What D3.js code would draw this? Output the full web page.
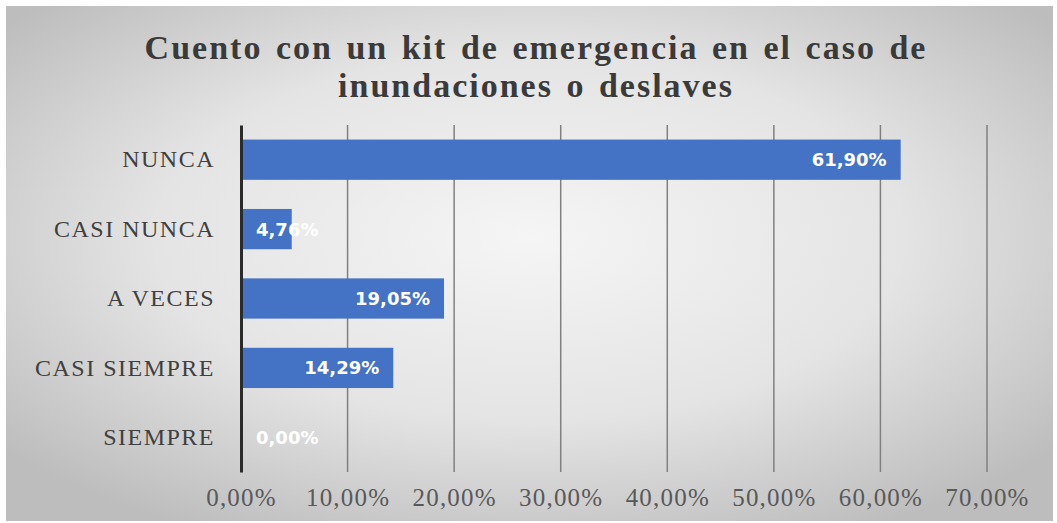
<!DOCTYPE html>
<html>
<head>
<meta charset="utf-8">
<script src="https://cdn.jsdelivr.net/npm/d3@7"></script>
<style>
  body { margin: 0; background: #fff; }
</style>
</head>
<body>
<div class="canvas"></div>
<script>
const categories = ['NUNCA', 'CASI NUNCA', 'A VECES', 'CASI SIEMPRE', 'SIEMPRE']
const values = [61.90, 4.76, 19.05, 14.29, 0.00]
const ticks = [0, 10, 20, 30, 40, 50, 60, 70]
const title = ['Cuento con un kit de emergencia en el caso de', 'inundaciones o deslaves']

const dims = { width: 1057, height: 523 }
const plot = { left: 241, right: 987, top: 125, bottom: 472 }

const fmt = v => v.toFixed(2).replace('.', ',') + '%'

const svg = d3.select('.canvas').append('svg')
  .attr('width', dims.width)
  .attr('height', dims.height)

// background gradient
const grad = svg.append('defs').append('radialGradient')
  .attr('id', 'bg')
  .attr('cx', '50%').attr('cy', '45%').attr('r', '65%')
grad.append('stop').attr('offset', '0%').attr('stop-color', '#f5f5f5')
grad.append('stop').attr('offset', '55%').attr('stop-color', '#e4e4e4')
grad.append('stop').attr('offset', '100%').attr('stop-color', '#bdbdbd')

svg.append('rect')
  .attr('x', 6).attr('y', 6)
  .attr('width', dims.width - 10).attr('height', dims.height - 8)
  .attr('fill', 'url(#bg)')

// title
svg.append('g').selectAll('text')
  .data(title)
  .enter().append('text')
  .attr('x', 536)
  .attr('y', (d, i) => 59 + i * 38)
  .attr('text-anchor', 'middle')
  .attr('font-family', 'Liberation Serif, serif')
  .attr('font-weight', 'bold')
  .attr('font-size', 34)
  .attr('letter-spacing', 2)
  .attr('word-spacing', 3)
  .attr('fill', '#3a3a3a')
  .text(d => d)

const x = d3.scaleLinear()
  .domain([0, 70])
  .range([plot.left, plot.right])

const y = d3.scaleBand()
  .domain(categories)
  .range([plot.top, plot.bottom])
  .paddingInner(0.42)
  .paddingOuter(0.21)

// gridlines
svg.append('g').selectAll('line')
  .data(ticks.slice(1))
  .enter().append('line')
  .attr('x1', d => x(d)).attr('x2', d => x(d))
  .attr('y1', plot.top).attr('y2', plot.bottom)
  .attr('stroke', '#808080')
  .attr('stroke-width', 1.5)

// x tick labels
const xAxis = svg.append('g')
  .attr('transform', `translate(0, ${plot.bottom})`)
  .call(d3.axisBottom(x).tickValues(ticks).tickSize(0).tickPadding(16).tickFormat(fmt))
xAxis.select('.domain').remove()
xAxis.selectAll('text')
  .attr('font-family', 'Liberation Serif, serif')
  .attr('font-size', 25)
  .attr('letter-spacing', 1.2)
  .attr('fill', '#595959')

// bars
const bars = svg.append('g')
bars.selectAll('rect')
  .data(values)
  .enter().append('rect')
  .attr('x', x(0))
  .attr('y', (d, i) => y(categories[i]))
  .attr('width', d => x(d) - x(0))
  .attr('height', y.bandwidth())
  .attr('fill', '#4472c4')

// value labels: inside end, pushed right when the bar is too short
bars.selectAll('text')
  .data(values)
  .enter().append('text')
  .attr('y', (d, i) => y(categories[i]) + y.bandwidth() / 2)
  .attr('dy', '0.36em')
  .attr('text-anchor', 'start')
  .attr('font-family', 'DejaVu Sans, Verdana, sans-serif')
  .attr('font-weight', 'bold')
  .attr('font-size', 18)
  .attr('fill', '#fff')
  .text(d => fmt(d))
  .attr('x', function (d) {
    const w = this.getComputedTextLength()
    return Math.max(x(d) - 14 - w, x(0) + 15)
  })

// y axis
const yAxis = svg.append('g')
  .attr('transform', `translate(${plot.left}, 0)`)
  .call(d3.axisLeft(y).tickSize(0).tickPadding(26))
yAxis.select('.domain')
  .attr('stroke', '#2b2b2b')
  .attr('stroke-width', 3)
yAxis.selectAll('text')
  .attr('font-family', 'Liberation Serif, serif')
  .attr('font-size', 24)
  .attr('letter-spacing', 1.5)
  .attr('fill', '#404040')
</script>
</body>
</html>
